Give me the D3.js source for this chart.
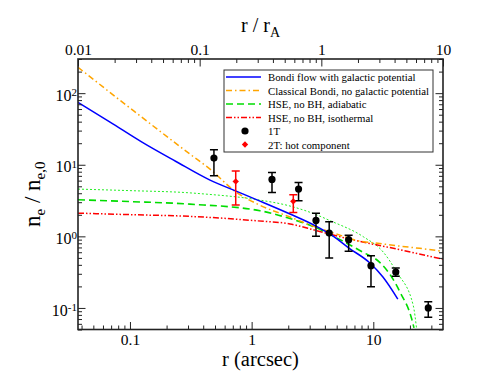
<!DOCTYPE html>
<html><head><meta charset="utf-8">
<script src="https://cdn.jsdelivr.net/npm/d3@7"></script>
<style>
body{margin:0;background:#fff}
svg text{font-family:"Liberation Serif","Times New Roman","DejaVu Serif",serif !important;fill:#000}
</style>
</head><body>
<svg id="chart" width="502" height="388" font-family="Liberation Serif, Times New Roman, serif"></svg>
<script>
// ---------- data ----------
const xDomain = [0.0374, 37.4];          // r (arcsec)
const topDomain = [0.01, 10];            // r / r_A
const yDomain = [0.05, 300];             // n_e / n_e,0
const xTickLabels = [0.1, 1, 10];
const topTickLabels = [0.01, 0.1, 1, 10];
const yTickValues = [0.1, 1, 10, 100];
const yTickExps = ["-1", "0", "1", "2"];

const bondiR = [0.0374,0.0686,0.1255,0.237,0.455,0.745,1.12,2.07,3.38,4.4,6.3,9.38,12.0,15.9];
const bondiN = [74.1,39.4,20.7,11.2,6.1,4.29,3.21,2.05,1.39,1.08,0.687,0.424,0.270,0.133];

const classicR = [0.0374,0.108,0.311,0.455,0.745,1.12,2.07,3.44,5.32,7.34,11.3,15.6,24.1,35.3,37.4];
const classicN = [230,56,14.1,8.7,4.15,2.82,1.86,1.33,1.04,0.874,0.794,0.739,0.680,0.625,0.615];

const hseAdiR = [0.0374,0.1,0.311,1.17,2.07,3.42,4.4,8.26,11.3,14.2,16.6,20.7,21.6];
const hseAdiN = [3.24,3.06,2.82,2.28,1.77,1.31,1.06,0.598,0.434,0.268,0.166,0.070,0.0526];

const hseThinR = [0.0374,0.1,0.311,0.377,1.1,2.07,3.42,4.4,8.26,12.1,15.6,21.3,22.7];
const hseThinN = [4.57,4.35,4.05,3.95,3.26,2.65,2.0,1.66,0.99,0.60,0.315,0.108,0.051];

const hseIsoR = [0.0374,0.1,0.311,1.1,2.07,3.42,6.3,15.6,35.3,37.4];
const hseIsoN = [2.11,2.01,1.9,1.65,1.49,1.2,0.92,0.665,0.49,0.48];

const oneTR  = [0.49,1.47,2.43,3.38,4.34,6.27,9.57,15.3,28.3];
const oneTN  = [12.4,6.24,4.57,1.67,1.11,0.90,0.389,0.318,0.100];
const oneTLo = [7.0,4.11,3.14,1.0,0.50,0.62,0.198,0.277,0.074];
const oneTHi = [16.2,7.8,5.67,2.11,1.6,1.04,0.536,0.361,0.122];

const twoTR  = [0.74,2.2];
const twoTN  = [5.85,3.08];
const twoTLo = [2.73,2.16];
const twoTHi = [8.2,3.81];

const legendLabels = ["Bondi flow with galactic potential","Classical Bondi, no galactic potential",
  "HSE, no BH, adiabatic","HSE, no BH, isothermal","1T","2T: hot component"];

// ---------- layout ----------
const FONT = '"Liberation Serif","Times New Roman",serif';
const L = 78, R = 443, T = 59, B = 329.5;
const svg = d3.select("#chart");
const x = d3.scaleLog().domain(xDomain).range([L, R]);
const xTop = d3.scaleLog().domain(topDomain).range([L, R]);
const y = d3.scaleLog().domain(yDomain).range([B, T]);

function minors(domain) {
  const out = [];
  for (let e = -3; e <= 3; e++) for (let k = 2; k <= 9; k++) {
    const v = +(k * Math.pow(10, e)).toPrecision(3);
    if (v >= domain[0] * 0.999 && v <= domain[1] * 1.001) out.push(v);
  }
  return out;
}

svg.append("defs").append("clipPath").attr("id", "clip")
  .append("rect").attr("x", L).attr("y", T).attr("width", R - L).attr("height", B - T);

const plot = svg.append("g").attr("clip-path", "url(#clip)");

const line = d3.line().x(d => x(d[0])).y(d => y(d[1])).curve(d3.curveMonotoneX);
function curve(rs, ns, color, width, dash) {
  plot.append("path").datum(rs.map((r, i) => [r, ns[i]]))
    .attr("d", line).attr("fill", "none").attr("stroke", color)
    .attr("stroke-width", width).attr("stroke-dasharray", dash);
}
curve(hseThinR, hseThinN, "#22ee22", 1, "2,2");
curve(hseIsoR, hseIsoN, "#ff0000", 1.5, "6,2,1.5,2,1.5,2");
curve(hseAdiR, hseAdiN, "#00dd00", 1.6, "7,4");
curve(classicR, classicN, "#ffa500", 1.5, "6,3,1.5,3");
curve(bondiR, bondiN, "#0000ff", 1.5, null);

// error bars + points
function errs(rs, lo, hi, color) {
  const g = plot.append("g").attr("stroke", color).attr("stroke-width", 1.5);
  rs.forEach((r, i) => {
    const cx = x(r);
    g.append("line").attr("x1", cx).attr("x2", cx).attr("y1", y(lo[i])).attr("y2", y(hi[i]));
    g.append("line").attr("x1", cx - 4).attr("x2", cx + 4).attr("y1", y(lo[i])).attr("y2", y(lo[i]));
    g.append("line").attr("x1", cx - 4).attr("x2", cx + 4).attr("y1", y(hi[i])).attr("y2", y(hi[i]));
  });
}
errs(oneTR, oneTLo, oneTHi, "#000");
errs(twoTR, twoTLo, twoTHi, "#ff0000");
plot.selectAll(".p1").data(oneTR).enter().append("circle")
  .attr("cx", d => x(d)).attr("cy", (d, i) => y(oneTN[i])).attr("r", 3.6).attr("fill", "#000");
const diamond = d3.symbol().type(d3.symbolDiamond2).size(26);
plot.selectAll(".p2").data(twoTR).enter().append("path")
  .attr("d", diamond).attr("fill", "#ff0000")
  .attr("transform", (d, i) => `translate(${x(d)},${y(twoTN[i])})`);

// ---------- axes ----------
const axisColor = "#222";
function styleAxis(g) {
  g.attr("font-family", FONT);
  g.select(".domain").remove();
  g.selectAll(".tick line").attr("stroke", axisColor).attr("stroke-width", 1);
  g.selectAll("text").style("font-family", FONT).style("font-size", "15.5px").attr("fill", "#000");
}
// bottom
svg.append("g").attr("transform", `translate(0,${B})`)
  .call(d3.axisBottom(x).tickValues(xTickLabels).tickSizeInner(-7.5).tickSizeOuter(0).tickPadding(4).tickFormat(d3.format("")))
  .call(styleAxis);
svg.append("g").attr("transform", `translate(0,${B})`)
  .call(d3.axisBottom(x).tickValues(minors(xDomain)).tickSizeInner(-4).tickSizeOuter(0).tickFormat(""))
  .call(styleAxis);
// top
svg.append("g").attr("transform", `translate(0,${T})`)
  .call(d3.axisTop(xTop).tickValues(topTickLabels).tickSizeInner(-7.5).tickSizeOuter(0).tickPadding(4).tickFormat(d3.format("")))
  .call(styleAxis);
svg.append("g").attr("transform", `translate(0,${T})`)
  .call(d3.axisTop(xTop).tickValues(minors(topDomain)).tickSizeInner(-4).tickSizeOuter(0).tickFormat(""))
  .call(styleAxis);
// left
const leftAx = svg.append("g").attr("transform", `translate(${L},0)`)
  .call(d3.axisLeft(y).tickValues(yTickValues).tickSizeInner(-7.5).tickSizeOuter(0).tickPadding(8).tickFormat(""))
  .call(styleAxis);
leftAx.selectAll(".tick text").each(function(d, i) {
  const t = d3.select(this).attr("x", -1).attr("dy", "0.45em").style("font-size", "16px");
  t.append("tspan").text("10");
  t.append("tspan").attr("dy", "-0.45em").style("font-size", "11px").text(yTickExps[i]);
});
svg.append("g").attr("transform", `translate(${L},0)`)
  .call(d3.axisLeft(y).tickValues(minors(yDomain)).tickSizeInner(-4).tickSizeOuter(0).tickFormat(""))
  .call(styleAxis);
// right
svg.append("g").attr("transform", `translate(${R},0)`)
  .call(d3.axisRight(y).tickValues(yTickValues).tickSizeInner(-7.5).tickSizeOuter(0).tickFormat(""))
  .call(styleAxis);
svg.append("g").attr("transform", `translate(${R},0)`)
  .call(d3.axisRight(y).tickValues(minors(yDomain)).tickSizeInner(-4).tickSizeOuter(0).tickFormat(""))
  .call(styleAxis);

// frame
svg.append("rect").attr("x", L).attr("y", T).attr("width", R - L).attr("height", B - T)
  .attr("fill", "none").attr("stroke", axisColor).attr("stroke-width", 1.6);

// titles
const tt = svg.append("text").attr("x", (L + R) / 2).attr("y", 32).attr("text-anchor", "middle")
  .style("font-family", FONT).style("font-size", "20px");
tt.append("tspan").text("r / r");
tt.append("tspan").attr("dy", 5).style("font-size", "14px").text("A");

svg.append("text").attr("x", (L + R) / 2).attr("y", 366).attr("text-anchor", "middle")
  .style("font-family", FONT).style("font-size", "20.5px").text("r (arcsec)");

const yl = svg.append("text").attr("transform", `translate(40,${(T + B) / 2}) rotate(-90)`)
  .attr("text-anchor", "middle").style("font-family", FONT).style("font-size", "23px");
yl.append("tspan").text("n");
yl.append("tspan").attr("dy", 5).style("font-size", "15px").text("e");
yl.append("tspan").attr("dy", -5).text(" / n");
yl.append("tspan").attr("dy", 5).style("font-size", "15px").text("e,0");

// ---------- legend ----------
const lg = svg.append("g");
lg.append("rect").attr("x", 224).attr("y", 70).attr("width", 209).attr("height", 82)
  .attr("fill", "#fff").attr("stroke", "#333").attr("stroke-width", 1);
const rowY = d3.scaleLinear().domain([0, 5]).range([77, 144.5]);
const legStyles = [
  {c:"#0000ff", w:1.5, d:null},
  {c:"#ffa500", w:1.5, d:"6,3,1.5,3"},
  {c:"#00dd00", w:1.6, d:"7,4"},
  {c:"#ff0000", w:1.5, d:"6,2,1.5,2,1.5,2"}
];
legendLabels.forEach((lab, i) => {
  const yy = rowY(i);
  if (i < 4) {
    lg.append("line").attr("x1", 226).attr("x2", 261).attr("y1", yy).attr("y2", yy)
      .attr("stroke", legStyles[i].c).attr("stroke-width", legStyles[i].w).attr("stroke-dasharray", legStyles[i].d);
  } else if (i === 4) {
    lg.append("circle").attr("cx", 245).attr("cy", yy).attr("r", 3.6).attr("fill", "#000");
  } else {
    lg.append("path").attr("d", diamond).attr("fill", "#ff0000").attr("transform", `translate(245,${yy})`);
  }
  lg.append("text").attr("x", 268).attr("y", yy + 4).style("font-family", FONT).style("font-size", "10.8px").text(lab);
});
</script>
</body></html>
